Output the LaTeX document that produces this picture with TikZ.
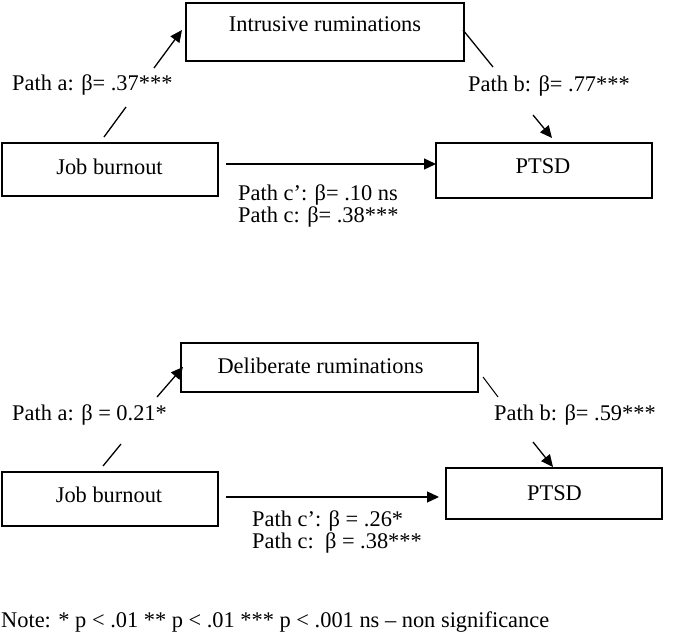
\documentclass[tikz,border=0pt]{standalone}
\usepackage{fontspec}
\setmainfont{Liberation Serif}
\usetikzlibrary{arrows.meta}
\begin{document}
\begin{tikzpicture}[x=1pt,y=-1pt,
  box/.style={draw,line width=1.6pt,inner sep=0pt},
  txt/.style={inner sep=0pt,anchor=base,font=\fontsize{22.4}{20}\selectfont},
  lab/.style={inner sep=0pt,anchor=base west,font=\fontsize{22.4}{20}\selectfont},
  lab2/.style={inner sep=0pt,anchor=west,align=left,font=\fontsize{22.4}{19.5}\selectfont},
  conn/.style={line width=1.3pt},
  arr/.style={line width=1.3pt,-{Triangle[length=12pt,width=11pt]}}]
\useasboundingbox (0,0) rectangle (685,642);
% ---------- top model ----------
\node[box,minimum width=278pt,minimum height=58pt] (ib) at (325,32) {};
\node[box,minimum width=216pt,minimum height=53pt] (jb1) at (110,169.5) {};
\node[box,minimum width=216pt,minimum height=55pt] (pt1) at (544,170.5) {};
\node[txt] (ibt) at (325,32) {Intrusive ruminations};
\node[txt] (jb1t) at (109.5,174) {Job burnout};
\node[txt] (pt1t) at (543,173) {PTSD};
\coordinate (a1s) at (104,137); \coordinate (a1e) at (126,107);
\coordinate (a2s) at (154,68);  \coordinate (a2e) at (182,30);
\draw[conn] (a1s) -- (a1e);
\draw[arr] (a2s) -- (a2e);
\coordinate (b1s) at (463,30); \coordinate (b1e) at (493,67);
\coordinate (b2s) at (533,115); \coordinate (b2e) at (552,138);
\draw[conn] (b1s) -- (b1e);
\draw[arr] (b2s) -- (b2e);
\coordinate (c1s) at (226,164); \coordinate (c1e) at (436,164);
\draw[arr] (c1s) -- (c1e);
\node[lab] (la1) at (12,90) {Path a: β= .37***};
\node[lab] (lb1) at (468,91) {Path b: β= .77***};
\node[lab2] (lc1) at (238,206) {Path c’: β= .10 ns\\Path c: β= .38***};
% ---------- bottom model ----------
\node[box,minimum width=297pt,minimum height=49pt] (db) at (329.5,367.5) {};
\node[box,minimum width=216pt,minimum height=54pt] (jb2) at (110,499) {};
\node[box,minimum width=216pt,minimum height=51pt] (pt2) at (554,493.5) {};
\node[txt] (dbt) at (320.5,373) {Deliberate ruminations};
\node[txt] (jb2t) at (109,502) {Job burnout};
\node[txt] (pt2t) at (554.5,500) {PTSD};
\coordinate (e1s) at (103,466); \coordinate (e1e) at (121,444);
\coordinate (e2s) at (157,397); \coordinate (e2e) at (183,367);
\draw[conn] (e1s) -- (e1e);
\draw[arr] (e2s) -- (e2e);
\coordinate (f1s) at (483,377); \coordinate (f1e) at (498,397);
\coordinate (f2s) at (533,442); \coordinate (f2e) at (553,467);
\draw[conn,line width=1pt] (f1s) -- (f1e);
\draw[arr] (f2s) -- (f2e);
\coordinate (g1s) at (226,497); \coordinate (g1e) at (439,497);
\draw[arr] (g1s) -- (g1e);
\node[lab] (la2) at (12,420) {Path a: β = 0.21*};
\node[lab] (lb2) at (494,420) {Path b: β= .59***};
\node[lab2] (lc2) at (252,532) {Path c’: β = .26*\\Path c:\ \ β = .38***};
% ---------- note ----------
\node[lab] (note) at (1,627) {Note: * p < .01 ** p < .01 *** p < .001 ns – non significance};
\end{tikzpicture}
\end{document}
